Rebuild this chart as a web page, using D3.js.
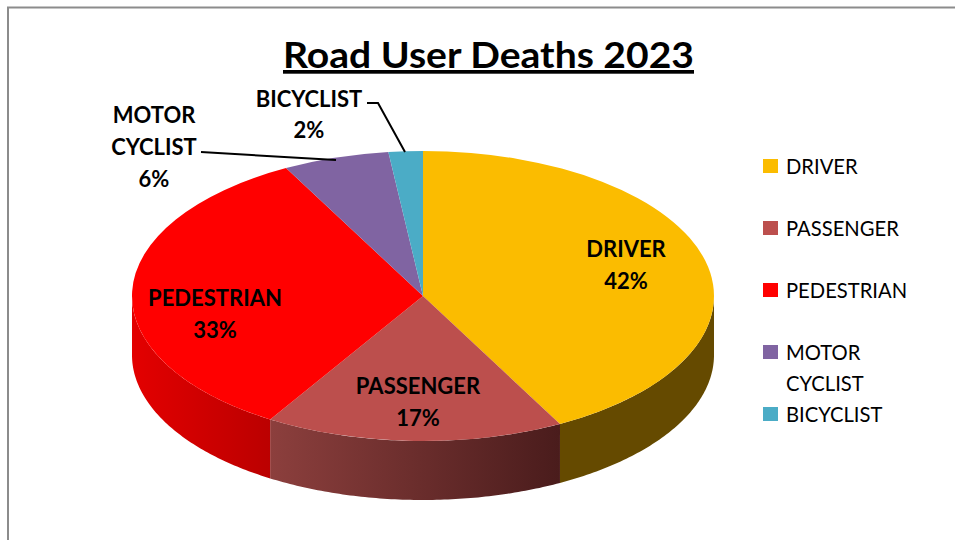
<!DOCTYPE html>
<html><head><meta charset="utf-8">
<script src="https://cdnjs.cloudflare.com/ajax/libs/d3/7.8.5/d3.min.js"></script>
<style>html,body{margin:0;padding:0;background:#fff}svg{display:block}text{font-family:Lato,"Noto Sans",sans-serif;fill:#000}</style>
</head><body><svg id="c" width="955" height="540"></svg>
<script>
const categories = ["DRIVER","PASSENGER","PEDESTRIAN","MOTOR CYCLIST","BICYCLIST"];
const values = [42.2,16.6,33.4,5.9,1.9];
const colors = ["#fbbc00","#bc4f4d","#ff0000","#8064a2","#4bacc6"];
const wallStops = [["#654a00","#654a00"],["#8c3f3d","#4a1c1c"],["#e30000","#bb0000"],["#4c3c61","#4c3c61"],["#2d6776","#2d6776"]];

const svg = d3.select("#c");
const cx=423, cy=296, rx=291, ry=145, depth=59;
const defs = svg.append("defs");

// frame
svg.append("path").attr("d","M955,7.5H8V540").attr("fill","none").attr("stroke","#8c8c8c").attr("stroke-width",2);

const pie = d3.pie().value(d=>d).sort(null);
const arcs = pie(values);
const px = a => cx + rx*Math.sin(a), py = (a,o=0) => cy - ry*Math.cos(a) + o;

// side walls (visible on the front half only)
const lo=Math.PI/2, hi=3*Math.PI/2;
const line = d3.line();
arcs.forEach((s,i)=>{
  const a0=Math.max(s.startAngle,lo), a1=Math.min(s.endAngle,hi);
  if(a1<=a0) return;
  const n=80, as=d3.range(n+1).map(k=>a0+(a1-a0)*k/n);
  const pts=as.map(a=>[px(a),py(a)]).concat(as.slice().reverse().map(a=>[px(a),py(a,depth)]));
  const id="w"+i, g=defs.append("linearGradient").attr("id",id)
    .attr("gradientUnits","userSpaceOnUse").attr("x1",px(a1)).attr("x2",px(a0)).attr("y1",0).attr("y2",0);
  g.append("stop").attr("offset",0).attr("stop-color",wallStops[i][0]);
  g.append("stop").attr("offset",1).attr("stop-color",wallStops[i][1]);
  svg.append("path").attr("d",line(pts)+"Z").attr("fill",`url(#${id})`);
});

// top face
const arc=d3.arc().innerRadius(0).outerRadius(rx);
svg.append("g").attr("transform",`translate(${cx},${cy}) scale(1,${ry/rx})`)
  .selectAll("path").data(arcs).join("path").attr("d",arc).attr("fill",(d,i)=>colors[i]);

// title
svg.append("text").attr("x",283).attr("y",68)
  .attr("font-size",37).attr("font-weight",700).attr("text-decoration","underline")
  .attr("textLength",411).attr("lengthAdjust","spacingAndGlyphs").text("Road User Deaths 2023");

// leaders
const leaders=[[[201,152],[336,160]],[[367,103],[378,103],[405,152]]];
leaders.forEach(l=>svg.append("path").attr("d",d3.line()(l)).attr("fill","none").attr("stroke","#000").attr("stroke-width",2));

// data labels
const pct=i=>Math.round(values[i])+"%";
const lab=[
 {x:626,lines:[["DRIVER",249],[pct(0),281]]},
 {x:418,lines:[["PASSENGER",386],[pct(1),418]]},
 {x:215,lines:[["PEDESTRIAN",298],[pct(2),330]]},
 {x:154,lines:[["MOTOR",115],["CYCLIST",147],[pct(3),179]]},
 {x:309,lines:[["BICYCLIST",99],[pct(4),130]]}
];
lab.forEach(l=>l.lines.forEach(([t,y])=>svg.append("text").attr("x",l.x).attr("y",y).attr("dy",".35em")
  .attr("text-anchor","middle").attr("font-size",22).attr("font-weight",700).text(t)));

// legend
const legendY=d3.scalePoint().domain(categories).range([166,414]);
const lg=svg.append("g").selectAll("g").data(categories).join("g");
lg.append("rect").attr("x",763).attr("y",d=>legendY(d)-7).attr("width",15).attr("height",14).attr("fill",(d,i)=>colors[i]);
lg.each(function(d){
  d.split(" ").forEach((w,k)=>d3.select(this).append("text").attr("x",786).attr("y",legendY(d)+1+k*31).attr("dy",".35em")
    .attr("font-size",20.2).text(w));
});
</script></body></html>
